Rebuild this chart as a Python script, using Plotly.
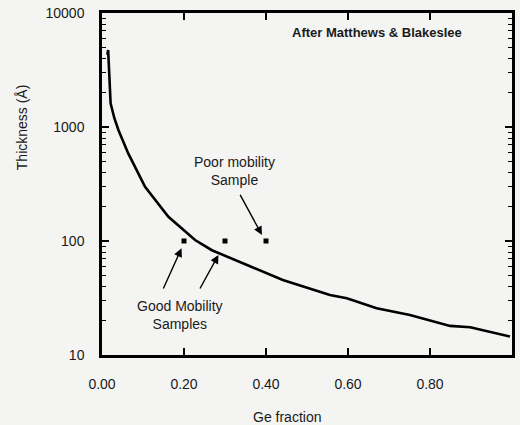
import plotly.graph_objects as go

# Matthews & Blakeslee critical thickness curve
ge_fraction = [0.013, 0.015, 0.021, 0.030, 0.040, 0.064, 0.105, 0.162, 0.227, 0.268,
               0.361, 0.441, 0.556, 0.597, 0.670, 0.751, 0.849, 0.898, 0.995]
thickness = [4300, 4730, 1615, 1200, 942, 587, 299, 163, 102, 83,
             60, 45.5, 33.6, 31.4, 25.7, 22.4, 18.0, 17.5, 14.5]

# samples
sample_x = [0.20, 0.30, 0.40]
sample_y = [100, 100, 100]

X_RANGE = [0, 1]
Y_LOG_RANGE = [1, 4]
X_TICK_STEP = 0.2
Y_TICK_STEP = 1

INK = "black"
BG = "#f4f4f2"
TF = dict(family="Arial", size=14, color="#1a1a1a")

fig = go.Figure()
fig.add_trace(go.Scatter(x=ge_fraction, y=thickness, mode="lines",
                         line=dict(color=INK, width=2.6), showlegend=False))
fig.add_trace(go.Scatter(x=sample_x, y=sample_y, mode="markers",
                         marker=dict(symbol="square", size=5, color=INK), showlegend=False))

fig.update_xaxes(range=X_RANGE, dtick=X_TICK_STEP, tick0=0, tickformat=".2f",
                 showline=True, linecolor=INK, linewidth=2.5, mirror="ticks",
                 ticks="inside", ticklen=7, tickcolor=INK, tickwidth=2,
                 showgrid=False, zeroline=False, automargin=False,
                 ticklabelstandoff=14, tickfont=TF)
fig.update_yaxes(type="log", range=Y_LOG_RANGE, dtick=Y_TICK_STEP, exponentformat="none",
                 tickformat="d",
                 showline=True, linecolor=INK, linewidth=2.5, mirror="ticks",
                 ticks="inside", ticklen=7, tickcolor=INK, tickwidth=2,
                 showgrid=True, gridcolor=BG, automargin=False,
                 ticklabelstandoff=12, tickfont=TF,
                 minor=dict(ticks="inside", ticklen=4, tickcolor=INK, tickwidth=1,
                            showgrid=False))

C = dict(xanchor="center", yanchor="middle")
ann = [
    dict(x=0.452, y=-0.18, xref="paper", yref="paper", text="Ge fraction",
         showarrow=False, font=TF, **C),
    dict(x=-0.196, y=0.665, xref="paper", yref="paper", text="Thickness (Å)",
         textangle=-90, showarrow=False, font=TF, **C),
    dict(x=0.670, y=0.942, xref="paper", yref="paper", text="<b>After Matthews &amp; Blakeslee</b>",
         showarrow=False, font=dict(family="Arial", size=13, color="#1a1a1a"), **C),
    dict(x=0.190, y=0.117, xref="paper", yref="paper", text="Good Mobility<br>Samples",
         showarrow=False, font=TF, **C),
    dict(x=0.324, y=0.538, xref="paper", yref="paper", text="Poor mobility<br>Sample",
         showarrow=False, font=TF, **C),
    # arrows
    dict(x=0.194, y=1.936, ax=0.148, ay=1.570, xref="x", yref="y", axref="x", ayref="y",
         text="", showarrow=True, arrowhead=2, arrowsize=1.2, arrowwidth=1.4, arrowcolor=INK),
    dict(x=0.284, y=1.877, ax=0.237, ay=1.570, xref="x", yref="y", axref="x", ayref="y",
         text="", showarrow=True, arrowhead=2, arrowsize=1.2, arrowwidth=1.4, arrowcolor=INK),
    dict(x=0.390, y=2.053, ax=0.335, ay=2.418, xref="x", yref="y", axref="x", ayref="y",
         text="", showarrow=True, arrowhead=2, arrowsize=1.2, arrowwidth=1.4, arrowcolor=INK),
]

fig.update_layout(width=520, height=425, margin=dict(l=102, r=8, t=13, b=70),
                  paper_bgcolor=BG, plot_bgcolor=BG, annotations=ann)

fig.write_html("out.html")
